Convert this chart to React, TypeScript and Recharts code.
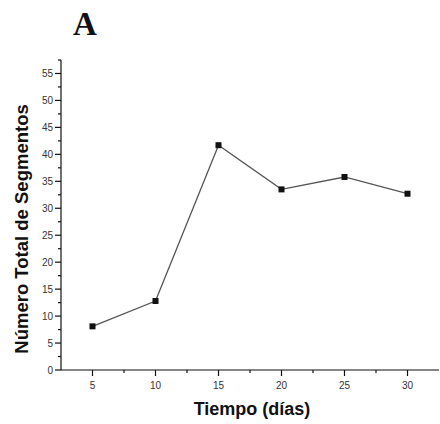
import React from "react";
import { LineChart, Line, XAxis, YAxis } from "recharts";

const days = [5, 10, 15, 20, 25, 30];
const segments = [8.1, 12.8, 41.7, 33.5, 35.8, 32.7];

const xMajorTicks = [5, 10, 15, 20, 25, 30];
const xAllTicks = [5, 7.5, 10, 12.5, 15, 17.5, 20, 22.5, 25, 27.5, 30];
const yMajorTicks = [0, 5, 10, 15, 20, 25, 30, 35, 40, 45, 50, 55];
const yAllTicks = [0, 2.5, 5, 7.5, 10, 12.5, 15, 17.5, 20, 22.5, 25, 27.5, 30, 32.5, 35, 37.5, 40, 42.5, 45, 47.5, 50, 52.5, 55, 57.5];

const panelLabel = "A";
const xTitle = "Tiempo (días)";
const yTitle = "Número Total de Segmentos";

const data = days.map((d, i) => ({ day: d, value: segments[i] }));

const FONT = "'Liberation Sans', Arial, sans-serif";

const YTick = (props: any) => {
  const { x, y, payload } = props;
  const major = yMajorTicks.includes(payload.value);
  return (
    <g>
      <line x1={x - (major ? 6 : 3)} x2={x} y1={y} y2={y} stroke="#111" strokeWidth={1.2} />
      {major && (
        <text x={x - 8} y={y + 3.5} textAnchor="end" fontSize={10} fontFamily={FONT} fill="#333">
          {payload.value}
        </text>
      )}
    </g>
  );
};

const XTick = (props: any) => {
  const { x, y, payload } = props;
  const major = xMajorTicks.includes(payload.value);
  return (
    <g>
      <line x1={x} x2={x} y1={y} y2={y + (major ? 6 : 3)} stroke="#111" strokeWidth={1.2} />
      {major && (
        <text x={x} y={y + 19} textAnchor="middle" fontSize={10} fontFamily={FONT} fill="#333">
          {payload.value}
        </text>
      )}
    </g>
  );
};

const SquareDot = (props: any) => {
  const { cx, cy } = props;
  if (cx == null || cy == null) return null;
  return <rect x={cx - 3} y={cy - 3} width={6} height={6} fill="#111" />;
};

export default function App() {
  return (
    <div style={{ position: "absolute", left: 0, top: 0, width: 440, height: 424, background: "#fff" }}>
      <LineChart width={440} height={424} data={data} margin={{ top: 60, right: 1, bottom: 0, left: 0 }}>
        <XAxis
          dataKey="day"
          type="number"
          domain={[2.5, 32.5]}
          ticks={xAllTicks}
          interval={0}
          height={54}
          tickSize={0}
          tickMargin={0}
          tickLine={false}
          tick={<XTick />}
          axisLine={{ stroke: "#111", strokeWidth: 1.2 }}
          allowDecimals
        />
        <YAxis
          type="number"
          domain={[0, 57.5]}
          ticks={yAllTicks}
          interval={0}
          width={61}
          tickSize={0}
          tickMargin={0}
          tickLine={false}
          tick={<YTick />}
          axisLine={{ stroke: "#111", strokeWidth: 1.2 }}
          allowDecimals
        />
        <Line
          dataKey="value"
          stroke="#555"
          strokeWidth={1.3}
          dot={<SquareDot />}
          activeDot={false}
          isAnimationActive={false}
        />
      </LineChart>
      <svg width={440} height={424} style={{ position: "absolute", left: 0, top: 0, pointerEvents: "none" }}>
        <text x={85} y={35} textAnchor="middle" fontSize={33} fontWeight="bold" fontFamily="'Liberation Serif', 'Times New Roman', serif" fill="#111">
          {panelLabel}
        </text>
        <text x={252} y={415} textAnchor="middle" fontSize={18} fontWeight="bold" fontFamily={FONT} fill="#111">
          {xTitle}
        </text>
        <text
          x={28}
          y={229}
          textAnchor="middle"
          fontSize={18.5}
          fontWeight="bold"
          fontFamily={FONT}
          fill="#111"
          transform="rotate(-90 28 229)"
        >
          {yTitle}
        </text>
      </svg>
    </div>
  );
}
